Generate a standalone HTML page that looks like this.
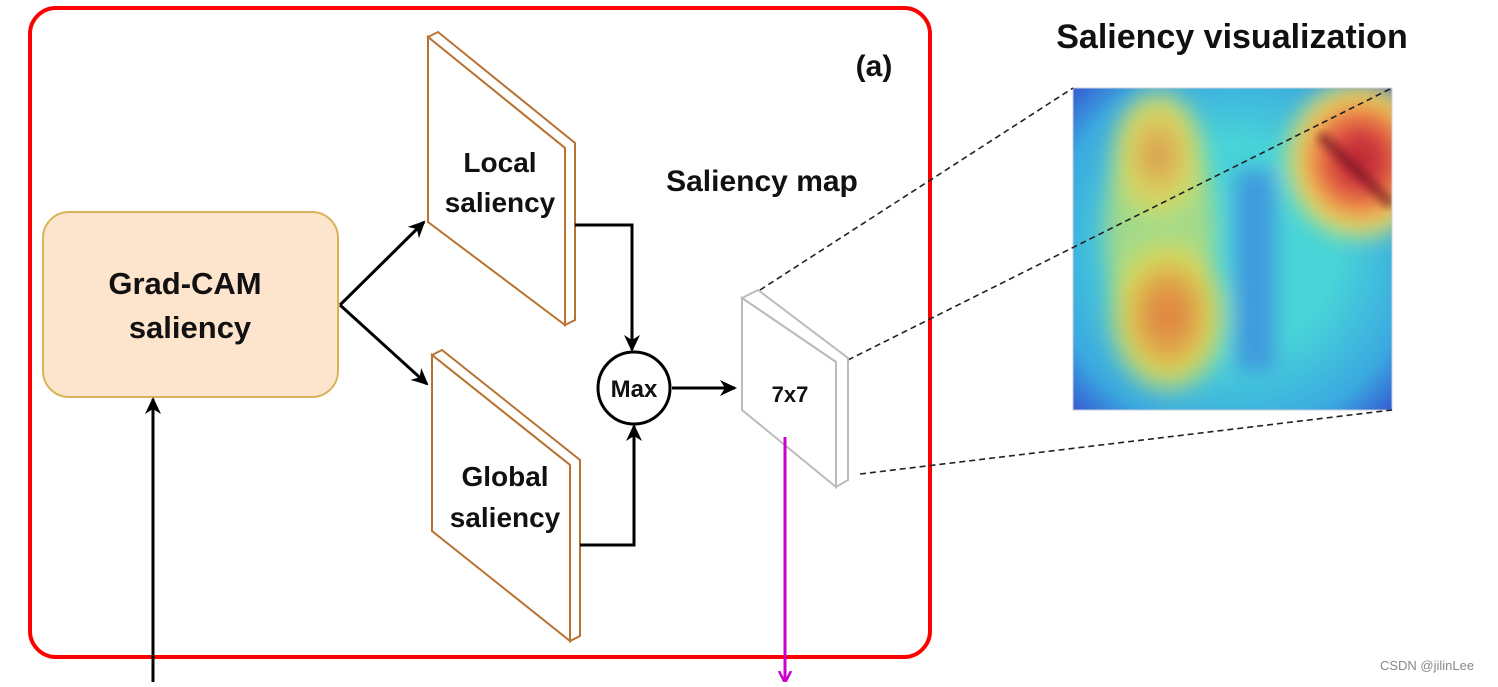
<!DOCTYPE html>
<html><head><meta charset="utf-8"><style>
body{margin:0;background:#fff;width:1498px;height:682px;overflow:hidden}
text{font-family:"Liberation Sans",Arial,sans-serif;font-weight:bold;fill:#111}
</style></head><body>
<svg width="1498" height="682" viewBox="0 0 1498 682" xmlns="http://www.w3.org/2000/svg">
<defs>
<marker id="ah" markerWidth="18" markerHeight="18" refX="15" refY="9" orient="auto" markerUnits="userSpaceOnUse" viewBox="0 0 18 18"><path d="M0,1 L17,9 L0,17 L5,9z" fill="#000"/></marker>
<marker id="am" markerWidth="14" markerHeight="14" refX="11" refY="7" orient="auto" markerUnits="userSpaceOnUse" viewBox="0 0 14 14"><path d="M0,1 L12,7 L0,13" fill="none" stroke="#c0c" stroke-width="2.5"/></marker>
<radialGradient id="r1"><stop offset="0" stop-color="#e07a40"/><stop offset="0.4" stop-color="#e0a048"/><stop offset="0.7" stop-color="#d8d858"/><stop offset="1" stop-color="#c8e070" stop-opacity="0"/></radialGradient>
<radialGradient id="r3"><stop offset="0" stop-color="#d89050"/><stop offset="0.4" stop-color="#dcc058"/><stop offset="0.75" stop-color="#d0dc68"/><stop offset="1" stop-color="#c8e070" stop-opacity="0"/></radialGradient>
<radialGradient id="r2"><stop offset="0" stop-color="#b02030"/><stop offset="0.35" stop-color="#d84040"/><stop offset="0.6" stop-color="#f09048"/><stop offset="0.8" stop-color="#e8e060"/><stop offset="1" stop-color="#e8e060" stop-opacity="0"/></radialGradient>
<radialGradient id="bg" cx="0.5" cy="0.5" r="0.72"><stop offset="0.45" stop-color="#48d4d8"/><stop offset="0.8" stop-color="#3aa8e0"/><stop offset="1" stop-color="#3454d0"/></radialGradient>
<filter id="bl"><feGaussianBlur stdDeviation="10"/></filter>
<filter id="bl2"><feGaussianBlur stdDeviation="4"/></filter>
<clipPath id="hc"><rect x="1073" y="88" width="319" height="322"/></clipPath>
</defs>
<rect x="30" y="8" width="900" height="649" rx="26" fill="none" stroke="#f00" stroke-width="4"/>
<g clip-path="url(#hc)">
<rect x="1073" y="88" width="319" height="322" fill="url(#bg)"/>
<g filter="url(#bl)">
<rect x="1235" y="170" width="40" height="200" fill="#3a80e0" opacity="0.7"/>
<ellipse cx="1160" cy="230" rx="55" ry="120" fill="#c8dc68" opacity="0.7"/>
<ellipse cx="1158" cy="155" rx="50" ry="70" fill="url(#r3)"/>
<ellipse cx="1168" cy="315" rx="65" ry="85" fill="url(#r1)"/>
<ellipse cx="1360" cy="160" rx="80" ry="85" fill="url(#r2)"/>
</g>
<line x1="1320" y1="135" x2="1392" y2="205" stroke="#6a1020" stroke-width="12" opacity="0.55" filter="url(#bl2)"/>
</g>
<rect x="1073" y="88" width="319" height="322" fill="none" stroke="#ccd" stroke-width="1"/>
<g stroke="#222" stroke-width="1.6" stroke-dasharray="6,4" fill="none">
<line x1="760" y1="290" x2="1073" y2="88"/>
<line x1="848" y1="360" x2="1392" y2="88"/>
<line x1="860" y1="474" x2="1392" y2="410"/>
</g>
<rect x="43" y="212" width="295" height="185" rx="26" fill="#fde4cd" stroke="#d9b25a" stroke-width="2"/>
<text x="185" y="294" font-size="31" text-anchor="middle">Grad-CAM</text>
<text x="190" y="338" font-size="31" text-anchor="middle">saliency</text>
<g fill="#fff" stroke="#b87333" stroke-width="2">
<polygon points="428,37 438,32 575,143 575,320 565,325 565,148"/>
<polygon points="428,37 565,148 565,325 428,222"/>
<polygon points="432,355 442,350 580,460 580,636 570,641 570,465"/>
<polygon points="432,355 570,465 570,641 432,531"/>
</g>
<text x="500" y="172" font-size="28" text-anchor="middle">Local</text>
<text x="500" y="212" font-size="28" text-anchor="middle">saliency</text>
<text x="505" y="486" font-size="28" text-anchor="middle">Global</text>
<text x="505" y="527" font-size="28" text-anchor="middle">saliency</text>
<g fill="#fff" stroke="#bbb" stroke-width="2">
<polygon points="742,298 758,290 848,358 848,480 836,487 836,362"/>
<polygon points="742,298 836,362 836,487 742,410"/>
</g>
<text x="790" y="402" font-size="22" text-anchor="middle">7x7</text>
<circle cx="634" cy="388" r="36" fill="#fff" stroke="#000" stroke-width="3"/>
<text x="634" y="397" font-size="24" text-anchor="middle">Max</text>
<g stroke="#000" stroke-width="3" fill="none" marker-end="url(#ah)">
<line x1="340" y1="305" x2="424" y2="222"/>
<line x1="340" y1="305" x2="427" y2="384"/>
<polyline points="575,225 632,225 632,350"/>
<polyline points="580,545 634,545 634,426"/>
<line x1="672" y1="388" x2="735" y2="388"/>
<line x1="153" y1="682" x2="153" y2="399"/>
</g>
<line x1="785" y1="437" x2="785" y2="682" stroke="#c0c" stroke-width="3" marker-end="url(#am)"/>
<text x="1232" y="48" font-size="34" text-anchor="middle">Saliency visualization</text>
<text x="874" y="76" font-size="30" text-anchor="middle">(a)</text>
<text x="762" y="191" font-size="30" text-anchor="middle">Saliency map</text>
<text x="1427" y="670" font-size="13" style="font-weight:normal;fill:#888" text-anchor="middle">CSDN @jilinLee</text>
</svg>
</body></html>
